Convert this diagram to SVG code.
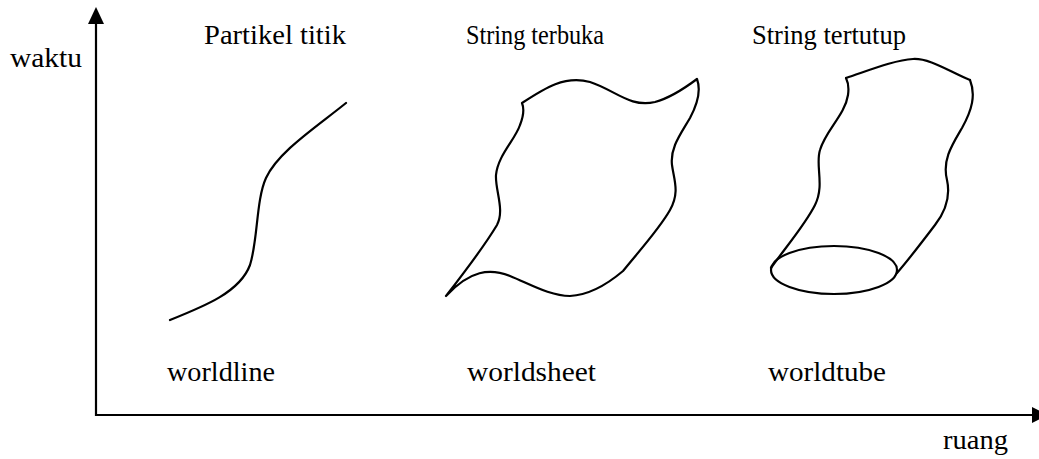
<svg xmlns="http://www.w3.org/2000/svg" width="1039" height="459" viewBox="0 0 1039 459">
<style>
.t{font-family:"Liberation Serif","Times New Roman",serif;font-size:27.5px;fill:#000}
.c{fill:none;stroke:#000;stroke-width:2.2;stroke-linejoin:round;stroke-linecap:round}
.ax{stroke:#000;stroke-width:2.2;fill:none}
</style>
<rect width="1039" height="459" fill="#fff"/>
<g id="axes">
<line class="ax" x1="96" y1="20" x2="96" y2="416"/>
<polygon points="96,7 88,24 104,24" fill="#000"/>
<line class="ax" x1="95" y1="415" x2="1034" y2="415"/>
<polygon points="1048,415 1032,407 1032,423" fill="#000"/>
<text class="t" x="10" y="67" textLength="72" lengthAdjust="spacingAndGlyphs">waktu</text>
<text class="t" x="943" y="449" textLength="65" lengthAdjust="spacingAndGlyphs">ruang</text>
</g>
<g id="worldline">
<path class="c" d="M170,320 C205,306 240,292 250,265 C258,240 256,200 266,178 C278,152 315,128 346,103"/>
<text class="t" x="204" y="44" textLength="142" lengthAdjust="spacingAndGlyphs">Partikel titik</text>
<text class="t" x="167" y="381" textLength="108" lengthAdjust="spacingAndGlyphs">worldline</text>
</g>
<g id="worldsheet">
<path class="c" d="M522,103 C545,88 565,75 590,82 C615,90 630,108 655,102 C670,98 685,88 697,79 C701,90 697,105 690,118 C680,135 670,148 672,165 C674,180 680,192 670,210 C660,228 640,250 623,271 C610,282 590,295 570,296 C550,296 530,284 510,276 C490,268 470,270 446,296 C460,278 485,245 497,225 C505,210 495,190 496,175 C498,155 515,140 520,125 C524,115 524,108 522,103 Z"/>
<text class="t" x="466" y="44" textLength="138" lengthAdjust="spacingAndGlyphs">String terbuka</text>
<text class="t" x="467" y="381" textLength="129" lengthAdjust="spacingAndGlyphs">worldsheet</text>
</g>
<g id="worldtube">
<ellipse class="c" cx="834" cy="270" rx="63" ry="24"/>
<path class="c" d="M771,268 C785,248 805,225 815,205 C825,185 815,165 820,150 C826,130 845,115 848,95 C849,88 848,82 846,78"/>
<path class="c" d="M846,78 C870,70 895,60 913,59 C930,58 950,72 970,80"/>
<path class="c" d="M970,80 C976,95 972,110 962,128 C952,145 942,160 947,180 C951,198 945,212 935,225 C922,242 910,258 897,273"/>
<text class="t" x="752" y="44" textLength="154" lengthAdjust="spacingAndGlyphs">String tertutup</text>
<text class="t" x="768" y="381" textLength="118" lengthAdjust="spacingAndGlyphs">worldtube</text>
</g>
</svg>
